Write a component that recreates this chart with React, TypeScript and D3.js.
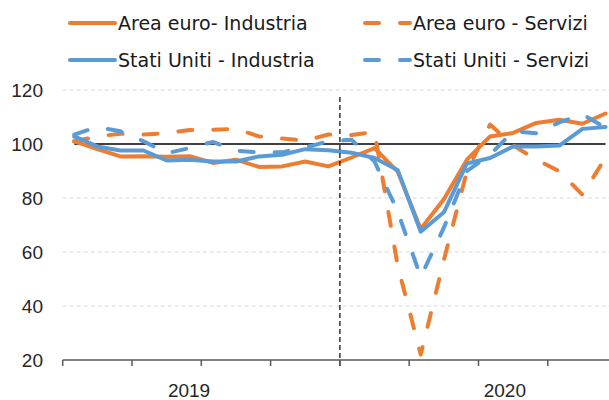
import React from 'react';
import * as d3 from 'd3';

// months Jan 2019 .. Dec 2020
const months = d3.range(24).map((i) => `${2019 + Math.floor(i / 12)}-${(i % 12) + 1}`);
const years = ['2019', '2020'];
const yTicks = [20, 40, 60, 80, 100, 120];

const euroInd = [101, 98.1, 95.4, 95.5, 95.3, 95.5, 93, 94.2, 91.5, 91.7, 93.5, 91.7, 95, 98.5, 89.8, 68.5, 79.5, 94.2, 102.8, 104.1, 107.8, 109, 107.5, 111.3];
const euroServ = [101, 102.8, 103.8, 103.5, 104, 105.2, 105.3, 105.6, 102.8, 102, 101.3, 103.5, 103.3, 104.5, 55, 22, 57, 90, 107.2, 99.5, 94.2, 89.9, 81.2, 95];
const usInd = [102.8, 99.1, 97.6, 97.6, 93.9, 94.2, 93.5, 93.5, 95.4, 96, 98.1, 97.7, 96.8, 94.8, 90.4, 67.5, 74.7, 92.8, 94.8, 99.1, 99.1, 99.4, 105.6, 106.3];
const usServ = [103.5, 106.3, 104.7, 101, 96.6, 98.5, 100.8, 97.5, 96.9, 96.9, 98.7, 101, 101.6, 93.5, 75, 50.8, 69, 90, 96, 104.7, 104, 108, 111, 106];

const series = [
  { name: 'Area euro- Industria', values: euroInd, color: '#ED7D31', dashed: false },
  { name: 'Area euro - Servizi', values: euroServ, color: '#ED7D31', dashed: true },
  { name: 'Stati Uniti - Industria', values: usInd, color: '#5B9BD5', dashed: false },
  { name: 'Stati Uniti - Servizi', values: usServ, color: '#5B9BD5', dashed: true },
];

const W = 609;
const H = 400;
const DASH = '14 21';

export default function App() {
  const x = d3.scaleBand<string>().domain(months).range([62.7, 617.1]).padding(0);
  const bw = x.bandwidth();
  const cx = (i: number) => (x(months[i]) as number) + bw / 2;
  const y = d3.scaleLinear().domain([20, 120]).range([360, 90]);

  const line = d3
    .line<number>()
    .x((_, i) => cx(i))
    .y((d) => y(d));

  const quarterTicks = months.filter((_, i) => i % 3 === 0).map((m) => x(m) as number);
  const yearSplit = x(months[12]) as number;
  // year labels sit a bit off the span centres in the source chart
  const yearX = [x(months[5]) as number + bw * 0.47, x(months[19]) as number + bw * 0.14];

  const legendCols = [68, 363];
  const legendRows = [23, 60];

  return (
    <svg width={W} height={H} style={{ position: 'absolute', left: 0, top: 0 }}>
      <rect width={W} height={H} fill="#fff" />
      {yTicks
        .filter((t) => t !== 20 && t !== 100)
        .map((t) => (
          <line key={t} x1={62.7} x2={W} y1={y(t)} y2={y(t)} stroke="#d9d9d9" strokeWidth={1} strokeDasharray="4 3" />
        ))}
      {yTicks.map((t) => (
        <text
          key={t}
          x={43}
          y={y(t)}
          dy="0.35em"
          textAnchor="end"
          fontFamily="Liberation Sans, Arial, sans-serif"
          fontSize={19}
          fill="#262626"
        >
          {t}
        </text>
      ))}
      <line x1={cx(0)} x2={cx(23)} y1={y(100)} y2={y(100)} stroke="#000" strokeWidth={1.5} />
      {series.map((s) => (
        <path
          key={s.name}
          d={line(s.values) || ''}
          fill="none"
          stroke={s.color}
          strokeWidth={4}
          strokeLinejoin="round"
          strokeLinecap="round"
          strokeDasharray={s.dashed ? DASH : undefined}
        />
      ))}
      <line x1={yearSplit} x2={yearSplit} y1={97} y2={368} stroke="#000" strokeWidth={1.2} strokeDasharray="5 3" />
      <line x1={62.7} x2={W} y1={360} y2={360} stroke="#595959" strokeWidth={1.5} />
      {quarterTicks.map((t, i) => (
        <line key={i} x1={t} x2={t} y1={360} y2={366} stroke="#595959" strokeWidth={1.5} />
      ))}
      {years.map((yr, i) => (
        <text
          key={yr}
          x={yearX[i]}
          y={390}
          dy="0.35em"
          textAnchor="middle"
          fontFamily="Liberation Sans, Arial, sans-serif"
          fontSize={19}
          fill="#262626"
        >
          {yr}
        </text>
      ))}
      {series.map((s, i) => {
        const lx = legendCols[i % 2];
        const ly = legendRows[Math.floor(i / 2)];
        return (
          <g key={s.name}>
            <line
              x1={lx + 2}
              x2={lx + 47}
              y1={ly}
              y2={ly}
              stroke={s.color}
              strokeWidth={4}
              strokeLinecap="round"
              strokeDasharray={s.dashed ? DASH : undefined}
            />
            <text
              x={lx + 50}
              y={ly}
              dy="0.35em"
              fontFamily="DejaVu Sans, sans-serif"
              fontSize={19}
              fill="#1a1a1a"
            >
              {s.name}
            </text>
          </g>
        );
      })}
    </svg>
  );
}
